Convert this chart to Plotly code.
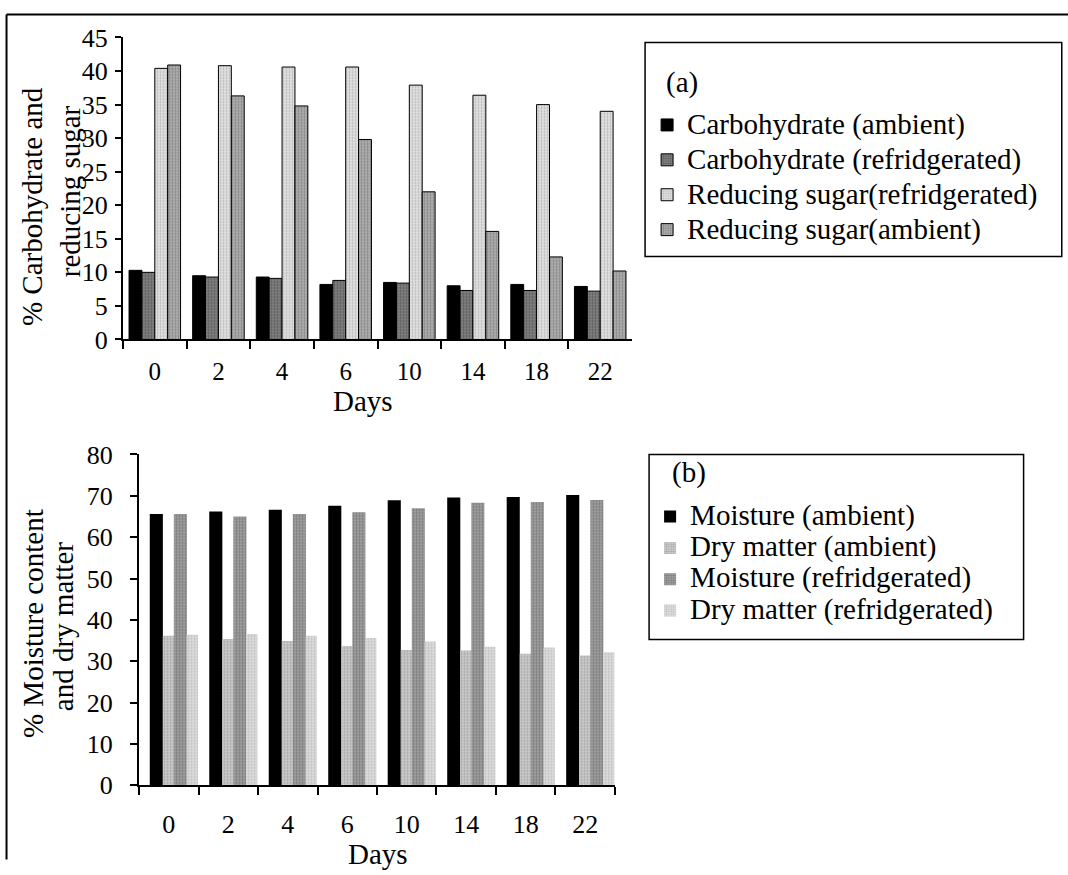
import plotly.graph_objects as go

W, H = 1068, 875
FONT = "Liberation Serif"

days = ["0", "2", "4", "6", "10", "14", "18", "22"]

# (a) carbohydrate and reducing sugar (%)
carb_ambient = [10.3, 9.5, 9.3, 8.2, 8.5, 8.0, 8.2, 7.9]
carb_refrig = [10.0, 9.3, 9.1, 8.8, 8.4, 7.3, 7.3, 7.2]
rs_refrig = [40.4, 40.8, 40.6, 40.6, 37.9, 36.4, 35.0, 34.0]
rs_ambient = [40.9, 36.3, 34.8, 29.8, 22.0, 16.1, 12.3, 10.2]

# (b) moisture content and dry matter (%)
moist_ambient = [65.6, 66.2, 66.6, 67.6, 68.9, 69.6, 69.7, 70.2]
dry_ambient = [36.2, 35.4, 34.9, 33.7, 32.7, 32.6, 31.8, 31.4]
moist_refrig = [65.6, 65.0, 65.6, 66.0, 67.0, 68.3, 68.5, 69.0]
dry_refrig = [36.4, 36.6, 36.2, 35.6, 34.8, 33.5, 33.3, 32.2]

labels_a = ["Carbohydrate (ambient)", "Carbohydrate (refridgerated)",
            "Reducing sugar(refridgerated)", "Reducing sugar(ambient)"]
labels_b = ["Moisture (ambient)", "Dry matter (ambient)",
            "Moisture (refridgerated)", "Dry matter (refridgerated)"]

LEG_SIZE = 29


def big(t, size=LEG_SIZE):
    return '<span style="font-size:%dpx">%s</span>' % (size, t)


# layout positions are given in target-picture pixels and converted to the
# figure's own pixel grid (the photographed page is slightly squeezed vertically)
def fx(x):
    return (x - 0.5) / 0.996


def fy(y):
    return min(max((y - 14.5) / 0.967, 0.5), H - 0.5)


def px_x(x):
    return fx(x) / W


def px_y(y):
    return 1 - fy(y) / H


fig = go.Figure()

styles_a = [
    dict(color="#000000", pattern=None),
    dict(color="#8c8c8c", pattern=dict(shape=".", fgcolor="#2e2e2e", size=3, solidity=0.5)),
    dict(color="#e2e2e2", pattern=dict(shape=".", fgcolor="#8a8a8a", size=3, solidity=0.35)),
    dict(color="#b4b4b4", pattern=dict(shape=".", fgcolor="#5a5a5a", size=3, solidity=0.45)),
]
for i, (vals, name, st) in enumerate(zip([carb_ambient, carb_refrig, rs_refrig, rs_ambient],
                                          labels_a, styles_a)):
    marker = dict(color=st["color"], line=dict(color="#000000", width=1))
    if st["pattern"]:
        marker["pattern"] = st["pattern"]
    fig.add_trace(go.Bar(x=days, y=vals, name=big(name), marker=marker,
                         xaxis="x", yaxis="y", legend="legend",
                         legendgroup="a%d" % i, hovertext=name))

styles_b = [
    dict(color="#000000", pattern=None),
    dict(color="#cdcdcd", pattern=dict(shape=".", fgcolor="#787878", size=3, solidity=0.4)),
    dict(color="#a9a9a9", pattern=dict(shape=".", fgcolor="#4e4e4e", size=3, solidity=0.5)),
    dict(color="#dedede", pattern=dict(shape=".", fgcolor="#9a9a9a", size=3, solidity=0.4)),
]
offsets_b = [-0.32, -0.10, 0.085, 0.30]
widths_b = [0.22, 0.19, 0.22, 0.19]
for i, (vals, name, st) in enumerate(zip([moist_ambient, dry_ambient, moist_refrig, dry_refrig],
                                          labels_b, styles_b)):
    marker = dict(color=st["color"], line=dict(width=0))
    if st["pattern"]:
        marker["pattern"] = st["pattern"]
    fig.add_trace(go.Bar(x=days, y=vals, name=big(name), marker=marker,
                         offset=offsets_b[i], width=widths_b[i],
                         xaxis="x2", yaxis="y2", legend="legend2",
                         legendgroup="b%d" % i, hovertext=name))

axis_common = dict(showline=True, linecolor="#000000", linewidth=2,
                   ticks="outside", tickcolor="#000000", tickwidth=1.5,
                   showgrid=False, zeroline=False)

fig.update_layout(
    width=W, height=H,
    margin=dict(l=0, r=0, t=0, b=0),
    paper_bgcolor="#ffffff", plot_bgcolor="#ffffff",
    barmode="group", bargap=0.19, bargroupgap=0,
    font=dict(family=FONT, color="#000000"),
    xaxis=dict(domain=[px_x(123), px_x(630)], anchor="y", type="category",
               tickson="boundaries", ticklen=8, ticklabelstandoff=9,
               tickfont=dict(family=FONT, size=25, color="#000000"),
               **axis_common),
    yaxis=dict(domain=[px_y(340), px_y(38)], anchor="x", range=[0, 45],
               dtick=5, ticklen=6, ticklabelstandoff=2,
               tickfont=dict(family=FONT, size=26, color="#000000"),
               **axis_common),
    xaxis2=dict(domain=[px_x(139), px_x(613)], anchor="y2", type="category",
                tickson="boundaries", ticklen=8, ticklabelstandoff=14,
                tickfont=dict(family=FONT, size=26, color="#000000"),
                **axis_common),
    yaxis2=dict(domain=[px_y(786), px_y(455)], anchor="x2", range=[0, 80],
                dtick=10, ticklen=7, ticklabelstandoff=12,
                tickfont=dict(family=FONT, size=26, color="#000000"),
                **axis_common),
    legend=dict(x=px_x(645), y=px_y(104), xanchor="left", yanchor="top",
                bgcolor="rgba(0,0,0,0)", borderwidth=0,
                font=dict(family=FONT, size=23, color="#000000"),
                tracegroupgap=2, itemwidth=30),
    legend2=dict(x=px_x(648), y=px_y(497), xanchor="left", yanchor="top",
                 bgcolor="rgba(0,0,0,0)", borderwidth=0,
                 font=dict(family=FONT, size=21, color="#000000"),
                 tracegroupgap=1, itemwidth=30),
    showlegend=True,
)

shapes = [
    # outer frame (left, top, right)
    dict(type="line", x0=px_x(7), x1=px_x(7), y0=px_y(5), y1=px_y(872), line=dict(color="#000", width=2)),
    dict(type="line", x0=px_x(7), x1=px_x(1066), y0=px_y(5), y1=px_y(5), line=dict(color="#000", width=2)),
    dict(type="line", x0=px_x(1066), x1=px_x(1066), y0=px_y(5), y1=px_y(872), line=dict(color="#000", width=2)),
    # legend boxes
    dict(type="rect", x0=px_x(643), x1=px_x(1058), y0=px_y(43), y1=px_y(257),
         line=dict(color="#000", width=1.5)),
    dict(type="rect", x0=px_x(647), x1=px_x(1020), y0=px_y(455), y1=px_y(640),
         line=dict(color="#000", width=1.5)),
]
for s in shapes:
    s["xref"] = "paper"
    s["yref"] = "paper"
fig.update_layout(shapes=shapes)

ann_font = dict(family=FONT, size=29, color="#000000")
annotations = [
    dict(text="% Carbohydrate and", x=px_x(33), y=px_y(207), textangle=-90),
    dict(text="reducing sugar", x=px_x(71), y=px_y(192), textangle=-90),
    dict(text="Days", x=px_x(362), y=px_y(402), textangle=0),
    dict(text="% Moisture content", x=px_x(34), y=px_y(624), textangle=-90),
    dict(text="and dry matter", x=px_x(64), y=px_y(627), textangle=-90),
    dict(text="Days", x=px_x(377), y=px_y(855), textangle=0),
    dict(text="(a)", x=px_x(680), y=px_y(83), textangle=0),
    dict(text="(b)", x=px_x(687), y=px_y(473), textangle=0),
]
for a in annotations:
    a.update(xref="paper", yref="paper", showarrow=False, font=ann_font,
             xanchor="center", yanchor="middle")
fig.update_layout(annotations=annotations)

fig.write_html(
    "out.html",
    config={"displayModeBar": False},
    post_script=(
        "document.documentElement.style.margin='0';"
        "document.documentElement.style.overflow='hidden';"
        "document.body.style.margin='0';"
        "document.body.style.overflow='hidden';"
        "var gd=document.getElementById('{plot_id}');"
        "gd.style.position='absolute';gd.style.left='0px';gd.style.top='0px';"
    ),
)
